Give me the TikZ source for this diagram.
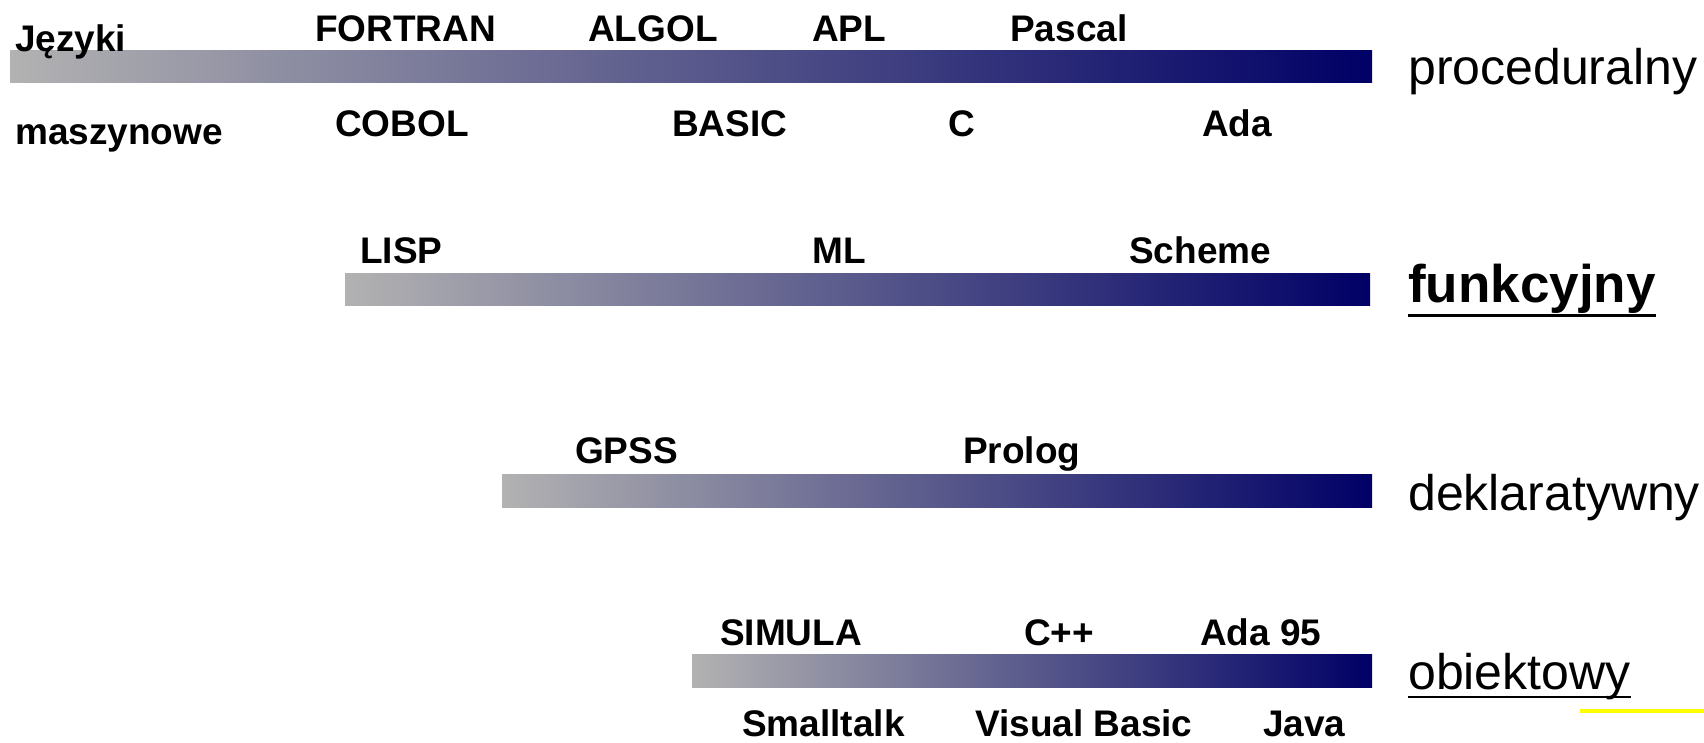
\documentclass[tikz,border=0pt]{standalone}
\usepackage{fontspec}
\setmainfont{Liberation Sans}
\definecolor{barleft}{RGB}{178,178,178}
\definecolor{barright}{RGB}{0,0,102}
\definecolor{hl}{RGB}{255,255,0}
\begin{document}
\begin{tikzpicture}[x=1pt,y=-1pt,
  lang/.style={anchor=base west,inner sep=0pt,font=\fontsize{37}{40}\selectfont\bfseries},
  kind/.style={anchor=base west,inner sep=0pt,font=\fontsize{50}{54}\selectfont},
  kindb/.style={anchor=base west,inner sep=0pt,font=\fontsize{53}{56}\selectfont\bfseries},
  bar/.style={left color=barleft,right color=barright}]
\useasboundingbox (0,0) rectangle (1704,743);
% bars
\shade[bar] (10,51) rectangle (1372,83);
\shade[bar] (345,273) rectangle (1370,305);
\shade[bar] (502,474) rectangle (1372,507);
\shade[bar] (692,654) rectangle (1372,687);
% row 1
\node[lang] (jez) at (15,52) {Języki};
\node[lang] (masz) at (15,145) {maszynowe};
\node[lang] (fortran) at (315,42) {FORTRAN};
\node[lang] (algol) at (588,42) {ALGOL};
\node[lang] (apl) at (812,42) {APL};
\node[lang] (pascal) at (1010,42) {Pascal};
\node[lang] (cobol) at (335,137) {COBOL};
\node[lang] (basic) at (672,137) {BASIC};
\node[lang] (c) at (948,137) {C};
\node[lang] (ada) at (1202,137) {Ada};
\node[kind] (proc) at (1408,85) {proceduralny};
% row 2
\node[lang] (lisp) at (360,263) {LISP};
\node[lang] (ml) at (812,263) {ML};
\node[lang] (scheme) at (1129,263) {Scheme};
\node[kindb] (fun) at (1408,302) {funkcyjny};
\draw[line width=3pt] ([yshift=-13pt]fun.base west) -- ([yshift=-13pt]fun.base east);
% row 3
\node[lang] (gpss) at (575,463) {GPSS};
\node[lang] (prolog) at (963,463) {Prolog};
\node[kind] (dekl) at (1408,510) {deklaratywny};
% row 4
\node[lang] (simula) at (720,645) {SIMULA};
\node[lang] (cpp) at (1024,645) {C++};
\node[lang] (ada95) at (1200,645) {Ada 95};
\node[lang] (small) at (742,736) {Smalltalk};
\node[lang] (vb) at (975,736) {Visual Basic};
\node[lang] (java) at (1263,736) {Java};
\node[kind] (obj) at (1408,689) {obiektowy};
\draw[line width=2pt] ([yshift=-8pt]obj.base west) -- ([yshift=-8pt]obj.base east);
\draw[hl,line width=4.5pt] (1580,711) -- (1704,711);
\end{tikzpicture}
\end{document}
